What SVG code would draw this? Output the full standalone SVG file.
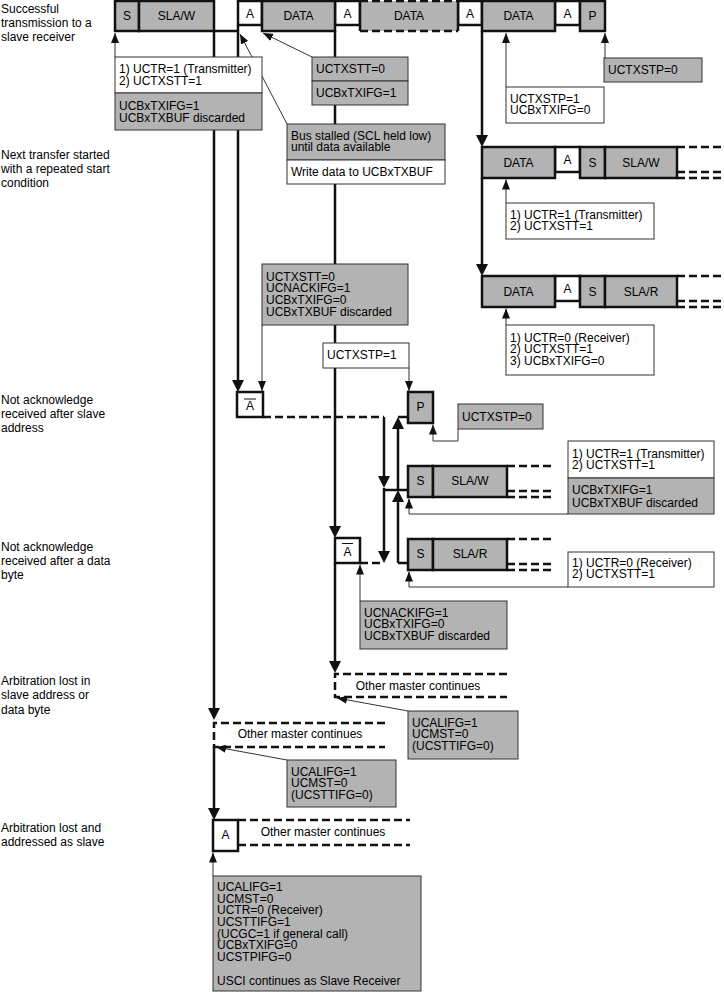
<svg xmlns="http://www.w3.org/2000/svg" width="724" height="992" viewBox="0 0 724 992">
<style>
.t{font-family:"Liberation Sans",Arial,sans-serif;font-size:12px;fill:#000}
.c{text-anchor:middle}
.bit{stroke:#111;stroke-width:2.5}
.g{fill:#b3b3b3}
.w{fill:#fff}
.box{stroke:#333;stroke-width:1}
.thick{stroke:#111;stroke-width:2.5;fill:none}
.dash{stroke-dasharray:8 4}
.thin{stroke:#333;stroke-width:1;fill:none}
.ov{stroke:#111;stroke-width:1}
</style>
<defs>
<marker id="ah" markerUnits="userSpaceOnUse" markerWidth="12" markerHeight="12" refX="3" refY="6" orient="auto"><path d="M0,0 L12,6 L0,12 z" fill="#111"/></marker>
<marker id="as" markerUnits="userSpaceOnUse" markerWidth="10" markerHeight="8" refX="10" refY="4" orient="auto"><path d="M0,0 L10,4 L0,8 z" fill="#111"/></marker>
</defs>
<rect width="724" height="992" fill="#fff"/>

<g id="connectors">
<path class="thick" d="M214,31 V711" marker-end="url(#ah)"/>
<path class="thick" d="M214,747 V811" marker-end="url(#ah)"/>
<path class="thick" d="M214,31 H238 M238,25 V383" marker-end="url(#ah)"/>
<path class="thick" d="M335,31 V529" marker-end="url(#ah)"/>
<path class="thick" d="M335,563 V664" marker-end="url(#ah)"/>
<path class="thick" d="M482,31 V138" marker-end="url(#ah)"/>
<path class="thick" d="M482,178 V267" marker-end="url(#ah)"/>
<path class="thick dash" d="M263,417 H384"/>
<path class="thick" d="M384,417 V479" marker-end="url(#ah)"/>
<path class="thick" d="M384,488 V554" marker-end="url(#ah)"/>
<path class="thick" d="M398,563 V499" marker-end="url(#ah)"/>
<path class="thick" d="M398,490 V426" marker-end="url(#ah)"/>
<path class="thick" d="M398,417 H408 M384,490 H408 M398,563 H408"/>
<path class="thick dash" d="M360,563 H384"/>
<path class="thin" d="M115,57 V33" marker-end="url(#as)"/>
<path class="thin" d="M312,57 L263,33" marker-end="url(#as)"/>
<path class="thin" d="M287,124 L240,34" marker-end="url(#as)"/>
<path class="thin" d="M506,87 V33" marker-end="url(#as)"/>
<path class="thin" d="M605,58 V33" marker-end="url(#as)"/>
<path class="thin" d="M506,203 V179.5" marker-end="url(#as)"/>
<path class="thin" d="M506,325 V308.5" marker-end="url(#as)"/>
<path class="thin" d="M262,325 V391" marker-end="url(#as)"/>
<path class="thin" d="M409,368 V391" marker-end="url(#as)"/>
<path class="thin" d="M458,429 V441 H433 V424.5" marker-end="url(#as)"/>
<path class="thin" d="M568,514 H409 V498.5" marker-end="url(#as)"/>
<path class="thin" d="M568,587 H409 V571.5" marker-end="url(#as)"/>
<path class="thin" d="M360,601 V564.5" marker-end="url(#as)"/>
<path class="thin" d="M408,711 L337,698" marker-end="url(#as)"/>
<path class="thin" d="M287,760 L216,747" marker-end="url(#as)"/>
<path class="thin" d="M213,876 V852.5" marker-end="url(#as)"/>
</g>

<g id="labels" class="t">
<text x="1" y="13">Successful</text>
<text x="1" y="27">transmission to a</text>
<text x="1" y="41">slave receiver</text>
<text x="1" y="159">Next transfer started</text>
<text x="1" y="173">with a repeated start</text>
<text x="1" y="187">condition</text>
<text x="1" y="404">Not acknowledge</text>
<text x="1" y="418">received after slave</text>
<text x="1" y="432">address</text>
<text x="1" y="551">Not acknowledge</text>
<text x="1" y="565">received after a data</text>
<text x="1" y="579">byte</text>
<text x="1" y="685">Arbitration lost in</text>
<text x="1" y="699">slave address or</text>
<text x="1" y="714">data byte</text>
<text x="1" y="832">Arbitration lost and</text>
<text x="1" y="846">addressed as slave</text>
</g>

<g id="frame-top">
<rect class="bit w" x="238" y="1" width="24" height="24"/>
<rect class="bit w" x="335" y="1" width="25" height="24"/>
<rect class="bit w" x="458" y="1" width="24" height="24"/>
<rect class="bit w" x="555" y="1" width="25" height="24"/>
<rect class="bit g" x="115" y="1" width="24" height="30"/>
<rect class="bit g" x="139" y="1" width="75" height="30"/>
<rect class="bit g" x="262" y="1" width="73" height="30"/>
<rect class="g" x="360" y="1" width="98" height="30"/>
<path class="thick" d="M360,1 V31 M458,1 V31"/>
<path class="thick dash" d="M360,1 H458 M360,31 H458"/>
<rect class="bit g" x="482" y="1" width="73" height="30"/>
<rect class="bit g" x="580" y="1" width="25" height="30"/>
<g class="t c">
<text x="127" y="20">S</text>
<text x="176.5" y="20">SLA/W</text>
<text x="250" y="17.5">A</text>
<text x="298.5" y="20">DATA</text>
<text x="347.5" y="17.5">A</text>
<text x="409" y="20">DATA</text>
<text x="470" y="17.5">A</text>
<text x="518.5" y="20">DATA</text>
<text x="567.5" y="17.5">A</text>
<text x="592.5" y="20">P</text>
</g>
</g>

<g id="frame-restart-w">
<rect class="bit w" x="555" y="147" width="25" height="25"/>
<rect class="bit g" x="482" y="147" width="73" height="31"/>
<rect class="bit g" x="580" y="147" width="25" height="31"/>
<rect class="bit g" x="605" y="147" width="72" height="31"/>
<path class="thick dash" d="M677,147 H724 M677,172 H724 M677,178 H724"/>
<g class="t c">
<text x="518.5" y="167">DATA</text>
<text x="567.5" y="164">A</text>
<text x="592.5" y="167">S</text>
<text x="641" y="167">SLA/W</text>
</g>
</g>

<g id="frame-restart-r">
<rect class="bit w" x="555" y="276" width="25" height="25"/>
<rect class="bit g" x="482" y="276" width="73" height="31"/>
<rect class="bit g" x="580" y="276" width="25" height="31"/>
<rect class="bit g" x="605" y="276" width="72" height="31"/>
<path class="thick dash" d="M677,276 H724 M677,301 H724 M677,307 H724"/>
<g class="t c">
<text x="518.5" y="296">DATA</text>
<text x="567.5" y="293">A</text>
<text x="592.5" y="296">S</text>
<text x="641" y="296">SLA/R</text>
</g>
</g>

<g id="nack-addr">
<rect class="bit w" x="237" y="392" width="26" height="25"/>
<line class="ov" x1="244" y1="399" x2="256" y2="399"/>
<text class="t c" x="250" y="409.5">A</text>
</g>

<g id="stop">
<rect class="bit g" x="408" y="392" width="25" height="31"/>
<text class="t c" x="420.5" y="411">P</text>
</g>

<g id="rs-slaw">
<rect class="bit g" x="408" y="466" width="25" height="31"/>
<rect class="bit g" x="433" y="466" width="74" height="31"/>
<path class="thick dash" d="M507,466 H553 M507,491 H553 M507,497 H553"/>
<text class="t c" x="420.5" y="485">S</text>
<text class="t c" x="470" y="485">SLA/W</text>
</g>

<g id="rs-slar">
<rect class="bit g" x="408" y="539" width="25" height="31"/>
<rect class="bit g" x="433" y="539" width="74" height="31"/>
<path class="thick dash" d="M507,539 H553 M507,564 H553 M507,570 H553"/>
<text class="t c" x="420.5" y="558">S</text>
<text class="t c" x="470" y="558">SLA/R</text>
</g>

<g id="nack-data">
<rect class="bit w" x="335" y="538" width="25" height="25"/>
<line class="ov" x1="342" y1="543.5" x2="353" y2="543.5"/>
<text class="t c" x="347.5" y="555.5">A</text>
</g>

<g id="arb-data">
<path class="thick dash" d="M507,674 H335 V697 H507"/>
<text class="t c" x="418" y="690">Other master continues</text>
</g>

<g id="arb-addr">
<path class="thick dash" d="M385,723 H214 V747 H385"/>
<text class="t c" x="300" y="738">Other master continues</text>
</g>

<g id="arb-slave">
<path class="thick dash" d="M238,820 H410 M238,845 H410"/>
<rect class="bit w" x="213" y="820" width="25" height="31"/>
<text class="t c" x="225.5" y="839">A</text>
<text class="t c" x="323" y="836">Other master continues</text>
</g>

<g id="b1">
<rect class="box w" x="115" y="57" width="147" height="36"/>
<rect class="box g" x="115" y="93" width="147" height="37"/>
<text class="t" x="119" y="73">1) UCTR=1 (Transmitter)</text>
<text class="t" x="119" y="85">2) UCTXSTT=1</text>
<text class="t" x="119" y="110">UCBxTXIFG=1</text>
<text class="t" x="119" y="122">UCBxTXBUF discarded</text>
</g>

<g id="b2">
<rect class="box g" x="312" y="57" width="96" height="24"/>
<rect class="box g" x="312" y="81" width="96" height="24"/>
<text class="t" x="316" y="73">UCTXSTT=0</text>
<text class="t" x="316" y="96.5">UCBxTXIFG=1</text>
</g>

<g id="b3">
<rect class="box g" x="287" y="124" width="158" height="36"/>
<rect class="box w" x="287" y="160" width="158" height="24"/>
<text class="t" x="291" y="139.5">Bus stalled (SCL held low)</text>
<text class="t" x="291" y="151">until data available</text>
<text class="t" x="291" y="176">Write data to UCBxTXBUF</text>
</g>

<g id="b4">
<rect class="box w" x="506" y="87" width="98" height="36"/>
<text class="t" x="510" y="102.5">UCTXSTP=1</text>
<text class="t" x="510" y="114">UCBxTXIFG=0</text>
</g>

<g id="b5">
<rect class="box g" x="604" y="58" width="98" height="24"/>
<text class="t" x="608" y="74">UCTXSTP=0</text>
</g>

<g id="b6">
<rect class="box w" x="506" y="203" width="148" height="36"/>
<text class="t" x="510" y="218.5">1) UCTR=1 (Transmitter)</text>
<text class="t" x="510" y="230">2) UCTXSTT=1</text>
</g>

<g id="b7">
<rect class="box w" x="506" y="325" width="148" height="50"/>
<text class="t" x="510" y="341.5">1) UCTR=0 (Receiver)</text>
<text class="t" x="510" y="353">2) UCTXSTT=1</text>
<text class="t" x="510" y="364.5">3) UCBxTXIFG=0</text>
</g>

<g id="b8">
<rect class="box g" x="262" y="264" width="146" height="61"/>
<text class="t" x="266" y="280.5">UCTXSTT=0</text>
<text class="t" x="266" y="292.2">UCNACKIFG=1</text>
<text class="t" x="266" y="303.9">UCBxTXIFG=0</text>
<text class="t" x="266" y="315.6">UCBxTXBUF discarded</text>
</g>

<g id="b9">
<rect class="box w" x="323" y="343" width="86" height="25"/>
<text class="t" x="327" y="359">UCTXSTP=1</text>
</g>

<g id="b10">
<rect class="box g" x="458" y="404" width="85" height="25"/>
<text class="t" x="462" y="421">UCTXSTP=0</text>
</g>

<g id="b11">
<rect class="box w" x="568" y="441" width="146" height="37"/>
<rect class="box g" x="568" y="478" width="146" height="36"/>
<text class="t" x="572" y="457.5">1) UCTR=1 (Transmitter)</text>
<text class="t" x="572" y="469.3">2) UCTXSTT=1</text>
<text class="t" x="572" y="494.3">UCBxTXIFG=1</text>
<text class="t" x="572" y="506.6">UCBxTXBUF discarded</text>
</g>

<g id="b12">
<rect class="box w" x="568" y="552" width="146" height="35"/>
<text class="t" x="572" y="566.6">1) UCTR=0 (Receiver)</text>
<text class="t" x="572" y="578.3">2) UCTXSTT=1</text>
</g>

<g id="b13">
<rect class="box g" x="360" y="601" width="147" height="48"/>
<text class="t" x="364" y="616.6">UCNACKIFG=1</text>
<text class="t" x="364" y="628">UCBxTXIFG=0</text>
<text class="t" x="364" y="640">UCBxTXBUF discarded</text>
</g>

<g id="b14">
<rect class="box g" x="408" y="711" width="110" height="48"/>
<text class="t" x="412" y="726.6">UCALIFG=1</text>
<text class="t" x="412" y="738.3">UCMST=0</text>
<text class="t" x="412" y="750">(UCSTTIFG=0)</text>
</g>

<g id="b15">
<rect class="box g" x="287" y="760" width="109" height="47"/>
<text class="t" x="291" y="775.5">UCALIFG=1</text>
<text class="t" x="291" y="787">UCMST=0</text>
<text class="t" x="291" y="799">(UCSTTIFG=0)</text>
</g>

<g id="b16">
<rect class="box g" x="213" y="876" width="208" height="115"/>
<text class="t" x="217" y="891">UCALIFG=1</text>
<text class="t" x="217" y="902.6">UCMST=0</text>
<text class="t" x="217" y="914.3">UCTR=0 (Receiver)</text>
<text class="t" x="217" y="926">UCSTTIFG=1</text>
<text class="t" x="217" y="937.6">(UCGC=1 if general call)</text>
<text class="t" x="217" y="949.3">UCBxTXIFG=0</text>
<text class="t" x="217" y="961">UCSTPIFG=0</text>
<text class="t" x="217" y="984.5">USCI continues as Slave Receiver</text>
</g>
</svg>
